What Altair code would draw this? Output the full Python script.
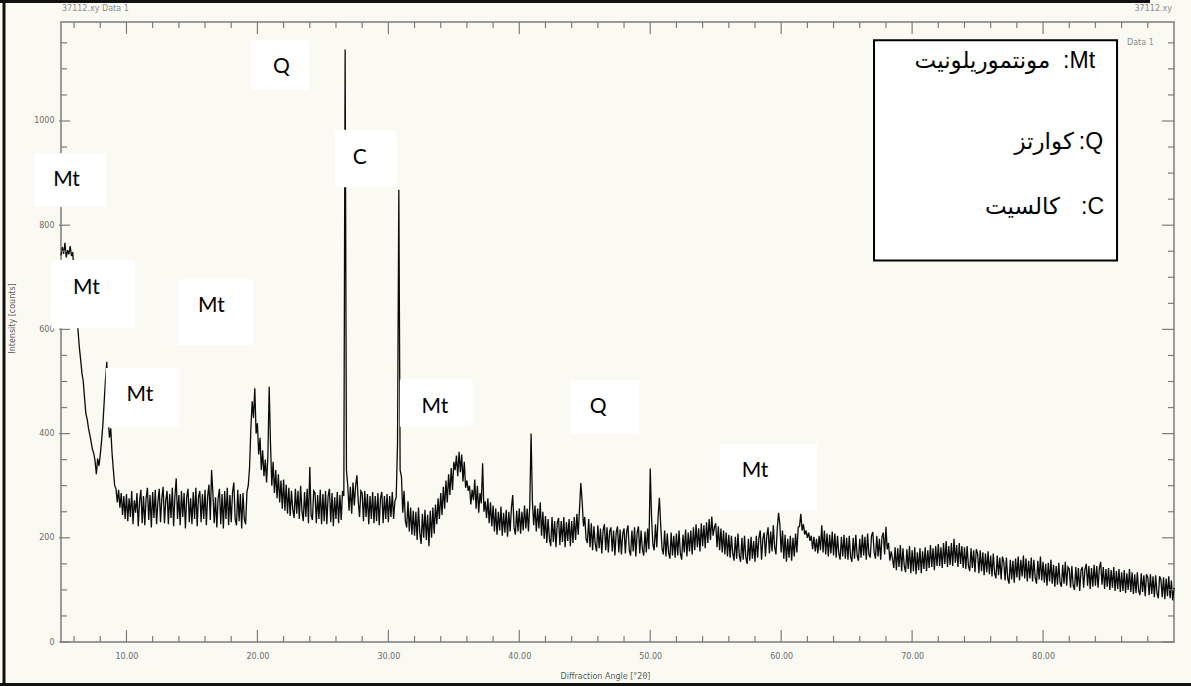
import altair as alt
import pandas as pd
import numpy as np

# ---- XRD pattern (counts, 0.1 deg step from 5.0 to 90.0) ----
angle_start = 5.0
angle_step = 0.1
counts = [
    742, 758, 745, 766, 738, 752, 744, 760, 741, 748,   # 5
    700, 662, 628, 598, 566, 542, 516, 500, 468, 438,   # 6
    428, 410, 398, 384, 370, 362, 348, 322, 352, 338,   # 7
    360, 386, 418, 462, 505, 538, 430, 392, 410, 362,   # 8
    330, 300, 294, 268, 292, 258, 286, 244, 280, 236,   # 9
    284, 232, 276, 240, 290, 226, 272, 248, 286, 222,   # 10
    270, 292, 228, 280, 224, 276, 296, 234, 282, 220,   # 11
    288, 238, 292, 226, 270, 294, 230, 276, 298, 228,   # 12
    272, 290, 226, 284, 238, 296, 222, 280, 314, 236,   # 13
    282, 224, 290, 240, 286, 218, 278, 294, 230, 276,   # 14
    226, 288, 236, 296, 222, 278, 290, 230, 284, 236,   # 15
    292, 224, 280, 302, 234, 330, 286, 228, 278, 220,   # 16
    276, 294, 226, 284, 218, 290, 236, 296, 224, 282,   # 17
    230, 288, 306, 236, 224, 292, 232, 284, 218, 286,   # 18
    236, 226, 288, 300, 335, 410, 462, 430, 487, 400,   # 19
    420, 360, 392, 330, 368, 318, 350, 306, 356, 490,   # 20
    380, 300, 346, 286, 330, 276, 322, 268, 310, 256,   # 21
    312, 252, 302, 246, 296, 242, 290, 254, 238, 294,   # 22
    246, 290, 236, 300, 252, 232, 288, 240, 294, 228,   # 23
    336, 244, 234, 290, 286, 228, 282, 236, 292, 226,   # 24
    284, 232, 290, 226, 280, 294, 230, 286, 222, 278,   # 25
    236, 288, 228, 282, 234, 290, 280, 1137, 330, 300,  # 26
    252, 298, 246, 306, 262, 300, 320, 270, 240, 290,   # 27
    286, 232, 290, 240, 284, 226, 280, 236, 288, 228,   # 28
    280, 232, 286, 224, 276, 288, 228, 280, 236, 284,   # 29
    230, 280, 240, 288, 236, 270, 278, 380, 868, 330,   # 30
    317, 248, 290, 232, 220, 270, 212, 258, 206, 252,   # 31
    204, 250, 196, 258, 210, 188, 246, 200, 254, 196,   # 32
    244, 184, 252, 200, 258, 208, 264, 226, 276, 236,   # 33
    286, 244, 298, 256, 310, 268, 322, 282, 334, 292,   # 34
    346, 330, 358, 318, 365, 326, 360, 308, 346, 296,   # 35
    310, 290, 300, 264, 292, 272, 312, 256, 300, 248,   # 36
    286, 266, 343, 250, 270, 238, 276, 228, 268, 222,   # 37
    262, 212, 256, 206, 250, 214, 260, 204, 248, 210,   # 38
    254, 202, 250, 212, 258, 282, 220, 206, 252, 212,   # 39
    256, 208, 250, 214, 262, 218, 256, 212, 262, 400,   # 40
    270, 224, 262, 212, 256, 218, 268, 204, 250, 198,   # 41
    242, 190, 236, 198, 184, 240, 192, 232, 182, 228,   # 42
    238, 186, 232, 192, 240, 182, 230, 194, 236, 184,   # 43
    232, 190, 240, 196, 246, 206, 256, 305, 270, 222,   # 44
    240, 198, 190, 236, 182, 228, 176, 222, 188, 174,   # 45
    224, 180, 218, 170, 214, 226, 176, 220, 172, 212,   # 46
    220, 174, 214, 166, 210, 222, 172, 216, 168, 208,   # 47
    218, 170, 212, 224, 176, 166, 214, 174, 220, 164,   # 48
    210, 222, 170, 214, 178, 166, 212, 172, 218, 178,   # 49
    333, 240, 188, 176, 226, 182, 240, 277, 224, 180,   # 50
    168, 214, 164, 208, 172, 160, 210, 166, 204, 162,   # 51
    208, 166, 214, 170, 158, 206, 172, 216, 164, 210,   # 52
    174, 214, 168, 220, 176, 226, 182, 218, 174, 228,   # 53
    184, 224, 180, 230, 190, 236, 196, 241, 204, 220,   # 54
    228, 182, 222, 176, 218, 172, 214, 168, 210, 164,   # 55
    206, 162, 204, 170, 156, 202, 160, 208, 166, 154,   # 56
    200, 158, 204, 162, 150, 198, 156, 202, 160, 194,   # 57
    154, 204, 162, 200, 214, 158, 198, 210, 164, 204,   # 58
    220, 170, 212, 174, 224, 182, 168, 218, 248, 226,   # 59
    172, 214, 160, 206, 154, 198, 162, 204, 156, 200,   # 60
    164, 208, 172, 220, 222, 246, 214, 226, 206, 214,   # 61
    200, 210, 194, 204, 178, 202, 174, 198, 170, 204,   # 62
    176, 224, 172, 214, 168, 208, 164, 206, 170, 212,   # 63
    166, 208, 162, 204, 170, 158, 202, 164, 206, 160,   # 64
    200, 158, 204, 164, 154, 200, 160, 206, 166, 156,   # 65
    198, 162, 206, 166, 202, 158, 208, 168, 162, 204,   # 66
    211, 172, 160, 204, 164, 198, 158, 202, 210, 168,   # 67
    221, 178, 190, 156, 174, 160, 142, 182, 138, 180,   # 68
    144, 186, 136, 180, 146, 134, 178, 140, 184, 132,   # 69
    176, 136, 182, 130, 172, 138, 180, 132, 174, 140,   # 70
    182, 136, 176, 142, 186, 144, 180, 138, 184, 146,   # 71
    188, 146, 182, 142, 190, 150, 194, 144, 184, 148,   # 72
    190, 146, 198, 152, 186, 144, 190, 150, 184, 142,   # 73
    182, 140, 184, 146, 136, 180, 142, 176, 134, 178,   # 74
    170, 132, 176, 136, 172, 128, 170, 134, 174, 130,   # 75
    166, 126, 170, 132, 122, 166, 128, 162, 120, 164,   # 76
    154, 118, 162, 122, 112, 158, 120, 156, 114, 160,   # 77
    124, 164, 118, 158, 126, 166, 122, 160, 116, 156,   # 78
    122, 162, 116, 158, 124, 112, 156, 120, 164, 118,   # 79
    154, 114, 150, 108, 152, 116, 158, 112, 148, 106,   # 80
    146, 110, 152, 114, 106, 148, 112, 154, 108, 144,   # 81
    140, 104, 146, 108, 100, 144, 106, 142, 98, 138,    # 82
    144, 104, 140, 150, 108, 146, 102, 142, 106, 148,   # 83
    108, 146, 104, 142, 154, 110, 144, 102, 140, 106,   # 84
    142, 100, 138, 104, 144, 98, 136, 102, 140, 96,     # 85
    134, 98, 138, 94, 132, 100, 140, 96, 134, 92,       # 86
    130, 94, 134, 98, 90, 132, 96, 128, 88, 130,        # 87
    124, 90, 130, 92, 126, 86, 128, 94, 84, 126,        # 88
    120, 86, 124, 82, 122, 88, 126, 84, 118, 80,        # 89
    104,                                                # 90
]

# ---- axis ticks ----
x_major = [10, 20, 30, 40, 50, 60, 70, 80]
x_minor = [v for v in range(6, 90, 2) if v % 10 != 0]
y_major = [0, 200, 400, 600, 800, 1000]
y_minor = [v for v in range(50, 1190, 50) if v % 200 != 0]

# ---- phase annotation boxes (data units) ----
box_text = ["Q", "C", "Mt", "Mt", "Mt", "Mt", "Mt", "Q", "Mt"]
box_x1 = [19.55, 25.91, 2.92, 4.27, 13.94, 8.42, 30.88, 43.86, 55.32]
box_x2 = [23.95, 30.62, 8.42, 10.63, 19.67, 14.02, 36.43, 49.16, 62.75]
box_y1 = [1155, 983, 938, 733, 696, 526, 504, 502, 379]
box_y2 = [1060, 873, 835, 602, 570, 412, 413, 399, 251]
text_x = [21.83, 27.82, 5.42, 6.94, 16.49, 11.02, 33.55, 46.03, 58.0]
text_y = [1103, 929, 887, 679, 645, 475, 452, 451, 328]

# ---- legend (Arabic phase names) ----
leg_box = dict(x1=67.09, x2=85.65, y1=1155, y2=732)
leg_code = [":Mt", ":Q", ":C"]
leg_name = ["مونتموريلونيت", "كوارتز", "كالسيت"]
leg_y = [1116, 960, 835]
leg_code_x = [83.97, 84.58, 84.66]
leg_name_x = [80.55, 82.35, 81.29]

W, H = 1113, 620
xs = alt.Scale(domain=[5, 90], nice=False, zero=False)
ys = alt.Scale(domain=[0, 1190], nice=False, zero=False)
BG = "#fafaf2"
AX = "#7c7c7c"

x_axis = alt.Axis(values=x_major, format=".2f", title="Diffraction Angle [°2θ]",
                  domain=False, ticks=False, grid=False, labelPadding=10,
                  labelFont="DejaVu Sans", labelFontSize=8, labelColor="#6a6a6a",
                  titleFont="DejaVu Sans", titleFontSize=8, titleFontWeight="normal",
                  titleColor="#5a5a5a", titleX=544, titleY=34,
                  titleBaseline="middle", titleAlign="center")
y_axis = alt.Axis(values=y_major, format="d", title="Intensity [counts]",
                  domain=False, ticks=False, grid=False, labelPadding=7,
                  labelFont="DejaVu Sans", labelFontSize=8, labelColor="#6a6a6a",
                  titleFont="DejaVu Sans", titleFontSize=8, titleFontWeight="normal",
                  titleColor="#5a5a5a", titleX=-49, titleY=296, titleAngle=270,
                  titleBaseline="middle", titleAlign="center")

xy = pd.DataFrame({"angle": angle_start + angle_step * np.arange(len(counts)),
                   "counts": counts})

line = alt.Chart(xy).mark_line(color="#0a0a0a", strokeWidth=1.3, interpolate="linear").encode(
    x=alt.X("angle:Q", scale=xs, axis=x_axis),
    y=alt.Y("counts:Q", scale=ys, axis=y_axis),
)

def xticks(vals, y0, y1):
    return alt.Chart(pd.DataFrame({"t": vals})).mark_rule(color=AX, strokeWidth=1.2).encode(
        x=alt.X("t:Q", scale=xs, axis=x_axis), y=alt.value(y0), y2=alt.value(y1))

def yticks(vals, x0, x1):
    return alt.Chart(pd.DataFrame({"t": vals})).mark_rule(color=AX, strokeWidth=1.2).encode(
        y=alt.Y("t:Q", scale=ys, axis=y_axis), x=alt.value(x0), x2=alt.value(x1))

ticks = [
    xticks(x_minor, H, H - 6), xticks(x_major, H, H - 12),
    xticks(x_minor, 0, 6), xticks(x_major, 0, 12),
    yticks(y_minor, 0, 6), yticks(y_major, -2, 9),
    yticks(y_minor, W, W - 6), yticks(y_major, W, W - 12),
]

boxes_df = pd.DataFrame({"x1": box_x1, "x2": box_x2, "y1": box_y1, "y2": box_y2})
boxes = alt.Chart(boxes_df).mark_rect(color="white").encode(
    x=alt.X("x1:Q", scale=xs, axis=x_axis), x2="x2:Q",
    y=alt.Y("y1:Q", scale=ys, axis=y_axis), y2="y2:Q")

labels_df = pd.DataFrame({"x": text_x, "y": text_y, "t": box_text})
labels = alt.Chart(labels_df).mark_text(font="Lato", fontSize=21, color="black",
                                        align="center", baseline="middle").encode(
    x=alt.X("x:Q", scale=xs, axis=x_axis), y=alt.Y("y:Q", scale=ys, axis=y_axis), text="t:N")

leg_rect = alt.Chart(pd.DataFrame([leg_box])).mark_rect(
    fill="white", stroke="black", strokeWidth=2).encode(
    x=alt.X("x1:Q", scale=xs, axis=x_axis), x2="x2:Q",
    y=alt.Y("y1:Q", scale=ys, axis=y_axis), y2="y2:Q")

leg_code_df = pd.DataFrame({"x": leg_code_x, "y": leg_y, "t": leg_code})
leg_codes = alt.Chart(leg_code_df).mark_text(font="Liberation Sans", fontSize=23, color="black",
                                             align="right", baseline="middle").encode(
    x=alt.X("x:Q", scale=xs, axis=x_axis), y=alt.Y("y:Q", scale=ys, axis=y_axis), text="t:N")

leg_name_df = pd.DataFrame({"x": leg_name_x, "y": leg_y, "t": leg_name})
leg_names = alt.Chart(leg_name_df).mark_text(font="DejaVu Sans", fontSize=23, color="black",
                                             align="right", baseline="middle").encode(
    x=alt.X("x:Q", scale=xs, axis=x_axis), y=alt.Y("y:Q", scale=ys, axis=y_axis), text="t:N")

def small_text(txt, x, y, align):
    return alt.Chart(pd.DataFrame({"t": [txt]})).mark_text(
        font="DejaVu Sans", fontSize=8, color="#8a8a8a", align=align, baseline="middle").encode(
        text="t:N", x=alt.value(x), y=alt.value(y))

decor_text = [
    small_text("37112.xy Data 1", 1, -13, "left"),
    small_text("37112.xy", 1111, -13, "right"),
    small_text("Data 1", 1066, 21, "left"),
]

def frame(x0, x1, y0, y1, w):
    return alt.Chart(pd.DataFrame({"k": [0]})).mark_rule(color="#111111", strokeWidth=w).encode(
        x=alt.value(x0), x2=alt.value(x1), y=alt.value(y0), y2=alt.value(y1))

frames = [
    frame(-61, 1089, -20.5, -20.5, 3),
    frame(-57, -57, -22, 664, 3),
    frame(-61, 1130, 662.5, 662.5, 3),
]

chart = alt.layer(line, *ticks, boxes, labels, leg_rect, leg_codes, leg_names,
                  *decor_text, *frames).properties(
    width=W, height=H,
    autosize=alt.AutoSizeParams(type="none"),
    padding={"left": 61, "top": 22, "right": 17, "bottom": 44},
    background=BG,
).configure_view(fill=BG, stroke=AX, strokeWidth=1.5)

chart.save("out.html", embed_options={"renderer": "svg", "actions": False})
